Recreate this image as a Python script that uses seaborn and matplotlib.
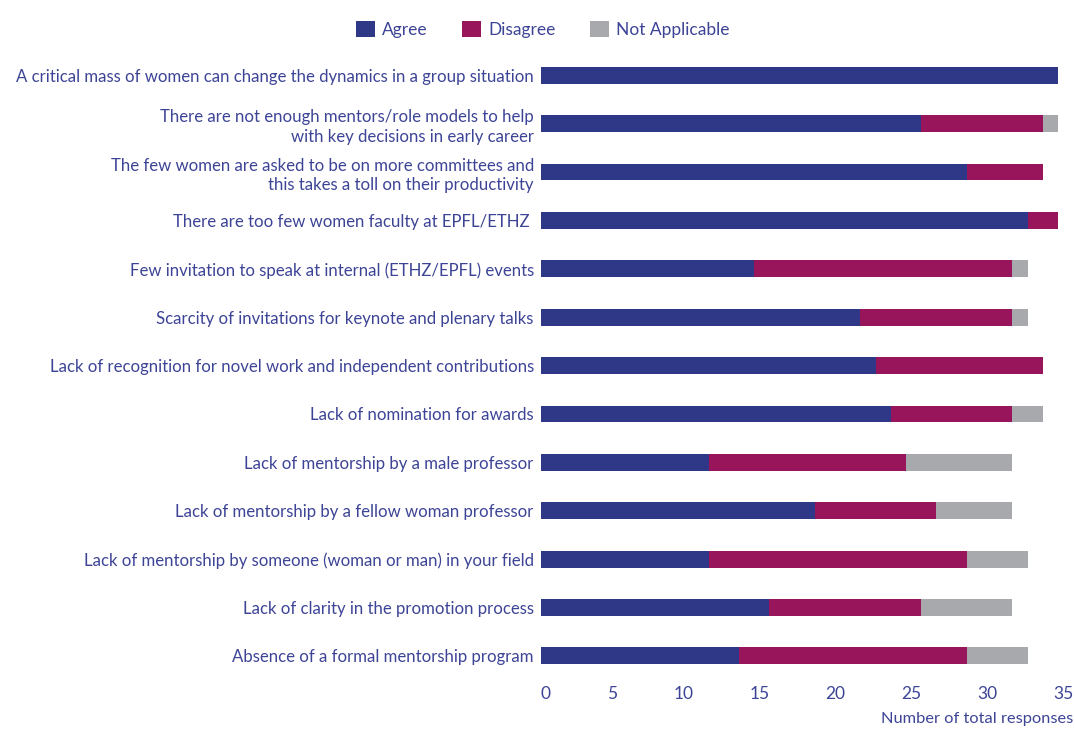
import matplotlib
matplotlib.use("Agg")
import matplotlib.pyplot as plt
import matplotlib.transforms as mtransforms
import seaborn as sns
import pandas as pd
import numpy as np

categories = [
    "A critical mass of women can change the dynamics in a group situation",
    "There are not enough mentors/role models to help\nwith key decisions in early career",
    "The few women are asked to be on more committees and\nthis takes a toll on their productivity",
    "There are too few women faculty at EPFL/ETHZ ",
    "Few invitation to speak at internal (ETHZ/EPFL) events",
    "Scarcity of invitations for keynote and plenary talks",
    "Lack of recognition for novel work and independent contributions",
    "Lack of nomination for awards",
    "Lack of mentorship by a male professor",
    "Lack of mentorship by a fellow woman professor",
    "Lack of mentorship by someone (woman or man) in your field",
    "Lack of clarity in the promotion process",
    "Absence of a formal mentorship program",
]
agree = [34, 25, 28, 32, 14, 21, 22, 23, 11, 18, 11, 15, 13]
disagree = [0, 8, 5, 2, 17, 10, 11, 8, 13, 8, 17, 10, 15]
not_applicable = [0, 1, 0, 0, 1, 1, 0, 2, 7, 5, 4, 6, 4]
series_names = ["Agree", "Disagree", "Not Applicable"]
xticks = [0, 5, 10, 15, 20, 25, 30, 35]

colors = {"Agree": "#2E3886", "Disagree": "#98155B", "Not Applicable": "#A8A9AC"}
text_color = "#3D4496"

df = pd.DataFrame({
    "question": categories,
    "Agree": agree,
    "Disagree": disagree,
    "Not Applicable": not_applicable,
})
df["cum_agree"] = df["Agree"]
df["cum_disagree"] = df["Agree"] + df["Disagree"]
df["cum_na"] = df["cum_disagree"] + df["Not Applicable"]

sns.set_theme(style="white")
plt.rcParams["font.family"] = ["Lato", "DejaVu Sans"]

fig = plt.figure(figsize=(10.75, 7.29), dpi=100)
ax = fig.add_axes([0.5037, 0.067, 0.4945, 0.863])

bw = 0.35
sns.barplot(data=df, x="cum_na", y="question", orient="h", color=colors["Not Applicable"],
            width=bw, ax=ax, label="Not Applicable", saturation=1, linewidth=0)
sns.barplot(data=df, x="cum_disagree", y="question", orient="h", color=colors["Disagree"],
            width=bw, ax=ax, label="Disagree", saturation=1, linewidth=0)
sns.barplot(data=df, x="cum_agree", y="question", orient="h", color=colors["Agree"],
            width=bw, ax=ax, label="Agree", saturation=1, linewidth=0)

handles, labels = ax.get_legend_handles_labels()
if ax.get_legend() is not None:
    ax.get_legend().remove()

ax.set_xlim(0, 35)
ax.set_ylim(len(categories) - 0.5, -0.5)
ax.set_xticks(xticks)
ax.set_xticklabels([str(t) for t in xticks])
ax.set_ylabel("")
ax.set_xlabel("")
sns.despine(ax=ax, left=True, bottom=True)
ax.tick_params(axis="both", length=0)
ax.tick_params(axis="x", labelsize=12.5, colors=text_color, pad=4)
ax.tick_params(axis="y", labelsize=12.1, colors=text_color, pad=5.5)
for lab in ax.get_yticklabels():
    lab.set_linespacing(1.3)

shifts = [4, -5, -10, -10, -10, -10, -10, -10]
for lab, s in zip(ax.get_xticklabels(), shifts):
    off = mtransforms.ScaledTranslation(s / 100, 0, fig.dpi_scale_trans)
    lab.set_transform(lab.get_transform() + off)

fig.text(0.998, 0.004, "Number of total responses", ha="right", va="bottom",
         fontsize=11.8, color=text_color)

order = [labels.index(n) for n in series_names]
fig.legend([handles[i] for i in order], [labels[i] for i in order],
           loc="upper center", bbox_to_anchor=(0.505, 0.993), ncol=3, frameon=False,
           fontsize=12.5, labelcolor=text_color, handlelength=1.1, handleheight=1.1,
           handletextpad=0.4, columnspacing=2.0)

fig.savefig("out.png", dpi=100)
